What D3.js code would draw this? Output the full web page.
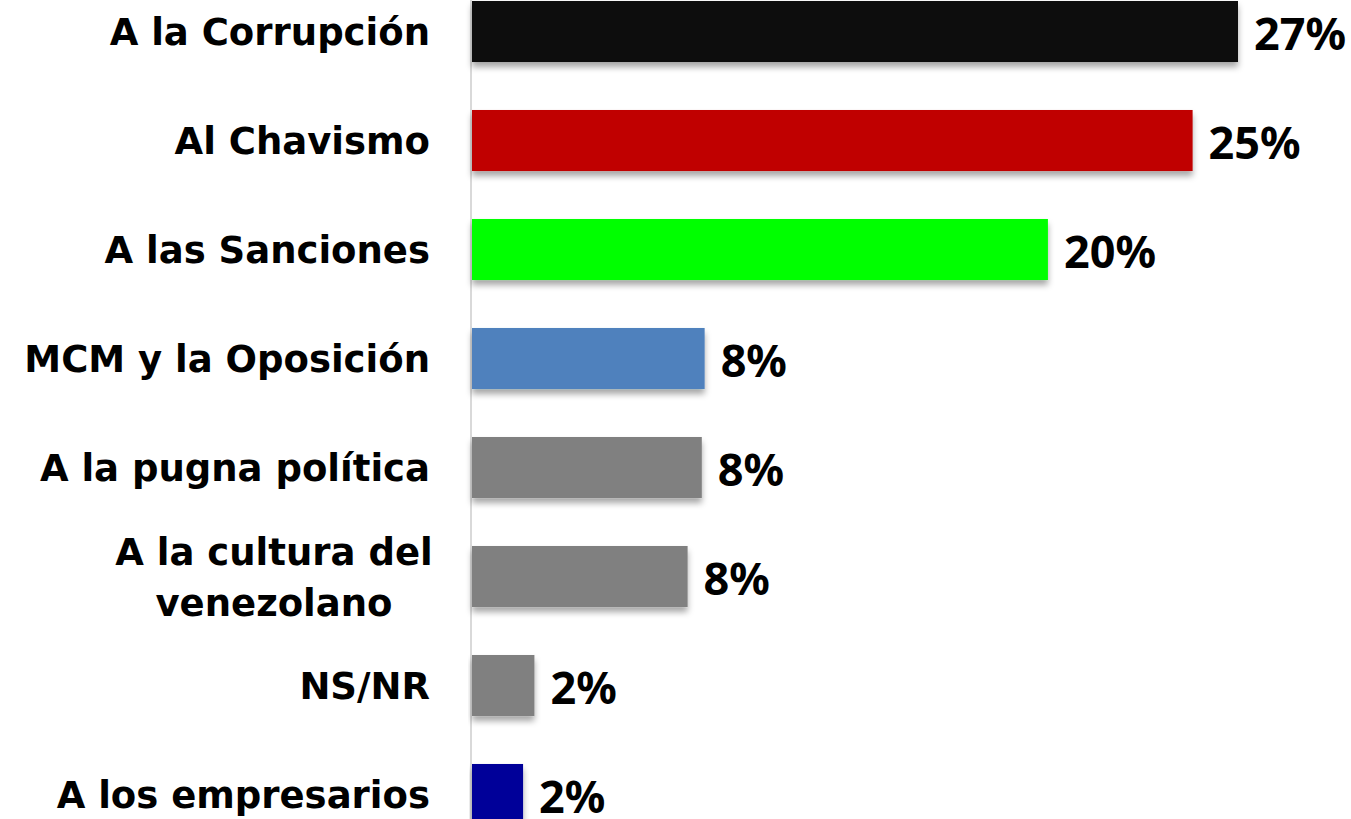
<!DOCTYPE html>
<html>
<head>
<meta charset="utf-8">
<script src="https://cdn.jsdelivr.net/npm/d3@7"></script>
<style>
  body { margin: 0; background: #fff; }
  svg { display: block; }
  text { font-weight: 700; fill: #000; }
  .cat { font-family: "DejaVu Sans", "Noto Sans", sans-serif; }
  .value { font-family: "Noto Sans", "DejaVu Sans", sans-serif; }
</style>
</head>
<body>
<script>
var categories = ["A la Corrupción", "Al Chavismo", "A las Sanciones", "MCM y la Oposición",
  "A la pugna política", "A la cultura del|venezolano", "NS/NR", "A los empresarios"];
var values = [27.0, 25.4, 20.3, 8.2, 8.1, 7.6, 2.2, 1.8];
var barColors = ["#0d0d0d", "#c00000", "#00ff00", "#4f81bd", "#808080", "#808080", "#808080", "#000099"];

var screen = {width: 1351, height: 819};
var axisX = 472;

var svg = d3.select("body").append("svg")
    .attr("width", screen.width)
    .attr("height", screen.height);

// soft shadow under bars
var shadow = svg.append("defs").append("filter")
    .attr("id", "shadow")
    .attr("x", "-5%").attr("y", "-20%")
    .attr("width", "115%").attr("height", "150%");
shadow.append("feDropShadow")
    .attr("dx", 0).attr("dy", 5)
    .attr("stdDeviation", 3)
    .attr("flood-color", "#000")
    .attr("flood-opacity", 0.35);

// scales
var xScale = d3.scaleLinear()
    .domain([0, 27])
    .range([axisX, 1238]);

var yScale = d3.scaleBand()
    .domain(d3.range(categories.length))
    .range([-23, 849])
    .paddingInner(0.44)
    .paddingOuter(0.22);

// vertical axis line
svg.append("line")
    .attr("x1", axisX - 1).attr("x2", axisX - 1)
    .attr("y1", 0).attr("y2", screen.height)
    .attr("stroke", "#d9d9d9")
    .attr("stroke-width", 2);

// bars
svg.selectAll("rect.bar")
    .data(values)
    .enter()
    .append("rect")
    .attr("class", "bar")
    .attr("x", xScale(0))
    .attr("y", function(d, i) { return yScale(i); })
    .attr("width", function(d) { return xScale(d) - xScale(0); })
    .attr("height", yScale.bandwidth())
    .attr("fill", function(d, i) { return barColors[i]; })
    .attr("filter", "url(#shadow)");

// value labels
svg.selectAll("text.value")
    .data(values)
    .enter()
    .append("text")
    .attr("class", "value")
    .attr("x", function(d) { return xScale(d) + 16; })
    .attr("y", function(d, i) { return yScale(i) + yScale.bandwidth() / 2; })
    .attr("dy", "0.41em")
    .style("font-size", "45px")
    .text(function(d) { return Math.round(d) + "%"; });

// category labels
var cat = svg.selectAll("text.cat")
    .data(categories)
    .enter()
    .append("text")
    .attr("class", "cat")
    .attr("text-anchor", "end")
    .style("font-size", "37px")
    .attr("y", function(d, i) { return yScale(i) + yScale.bandwidth() / 2; });

cat.each(function(d) {
  var lines = d.split("|");
  var t = d3.select(this);
  if (lines.length == 1) {
    t.append("tspan").attr("x", 430).attr("dy", "0.37em").text(d);
  } else {
    // two-line label, lines centred on each other
    t.attr("text-anchor", "middle");
    t.append("tspan").attr("x", 274).attr("dy", "-0.32em").text(lines[0]);
    t.append("tspan").attr("x", 274).attr("dy", "1.4em").text(lines[1]);
  }
});
</script>
</body>
</html>
